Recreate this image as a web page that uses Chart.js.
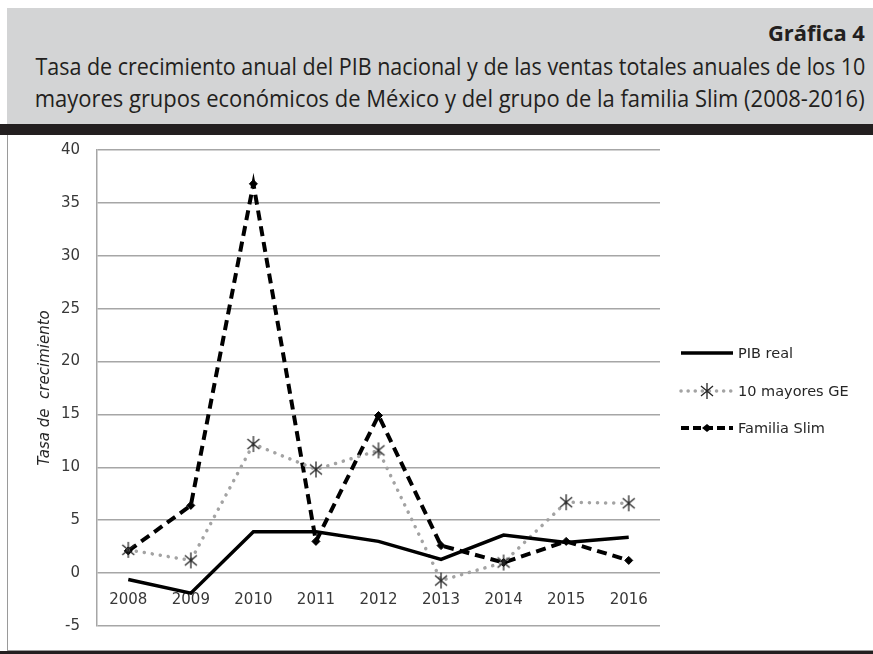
<!DOCTYPE html>
<html>
<head>
<meta charset="utf-8">
<script src="https://cdn.jsdelivr.net/npm/chart.js@4.4.1/dist/chart.umd.min.js"></script>
<style>
  html, body { margin: 0; padding: 0; background: #fff; }
  body { width: 873px; height: 654px; position: relative; overflow: hidden; }
  #head { position: absolute; left: 7px; top: 8px; width: 866px; height: 116px; background: #d3d4d5; color: #231f20; }
  .ln { position: absolute; right: 8px; white-space: nowrap; font-family: "Open Sans", sans-serif; transform-origin: right center; line-height: 1.2; }
  #num { top: 13px; font-weight: bold; font-size: 21px; }
  #t1 { top: 45px; font-size: 23px; }
  #t2 { top: 77px; font-size: 23px; }
  #bar { position: absolute; left: 0; top: 124px; width: 873px; height: 11px; background: #231f20; }
  #box { position: absolute; left: 7px; top: 135px; width: 866px; height: 516px; border-left: 1px solid #9a9a9a; border-bottom: 1px solid #9a9a9a; box-sizing: border-box; }
  #foot { position: absolute; left: 0; top: 651px; width: 873px; height: 3px; background: #231f20; }
  /* the x axis sits at y=0, Chart.js reserves half its height above and below the plot */
  #wrap { position: absolute; left: 0; top: -11px; width: 865px; height: 528px; }
</style>
</head>
<body>
<div id="head">
  <div class="ln" id="num">Gráfica 4</div>
  <div class="ln" id="t1">Tasa de crecimiento anual del PIB nacional y de las ventas totales anuales de los 10</div>
  <div class="ln" id="t2">mayores grupos económicos de México y del grupo de la familia Slim (2008-2016)</div>
</div>
<div id="bar"></div>
<div id="box"><div id="wrap"><canvas id="chart"></canvas></div></div>
<div id="foot"></div>
<script>
// fit the condensed title lines to the printed width
[["num", 97], ["t1", 830], ["t2", 830]].forEach(([id, w]) => {
  let el = document.getElementById(id);
  el.style.transform = "scaleX(" + (w / el.getBoundingClientRect().width) + ")";
});

const years = ["2008", "2009", "2010", "2011", "2012", "2013", "2014", "2015", "2016"];
const pibReal = [-0.6, -1.9, 3.9, 3.9, 3.0, 1.3, 3.6, 2.9, 3.4];
const mayoresGE = [2.2, 1.2, 12.2, 9.8, 11.6, -0.7, 1.0, 6.7, 6.6];
const familiaSlim = [2.1, 6.4, 36.8, 3.0, 14.9, 2.6, 1.0, 3.0, 1.2];
const yTicks = { min: -5, max: 40, step: 5 };

// asterisk marker: an X with a vertical stroke
function starMarker() {
  let c = document.createElement("canvas");
  c.width = 16;
  c.height = 18;
  let g = c.getContext("2d");
  g.strokeStyle = "#262626";
  g.lineWidth = 1.3;
  g.beginPath();
  g.moveTo(2, 4); g.lineTo(14, 14);
  g.moveTo(14, 4); g.lineTo(2, 14);
  g.moveTo(8, 1); g.lineTo(8, 17);
  g.stroke();
  return c;
}
const star = starMarker();

// legend on the right: line sample with the marker in its middle
const sideLegend = {
  id: "sideLegend",
  afterDraw(chart) {
    const ctx = chart.ctx;
    const x0 = 673, len = 52, rows = [229, 267, 304];
    chart.data.datasets.forEach((ds, i) => {
      const y = rows[i];
      ctx.save();
      ctx.strokeStyle = ds.borderColor;
      ctx.lineWidth = ds.borderWidth;
      ctx.lineCap = ds.borderCapStyle || "butt";
      ctx.setLineDash(ds.legendDash || []);
      ctx.beginPath();
      ctx.moveTo(x0, y);
      ctx.lineTo(x0 + len, y);
      ctx.stroke();
      ctx.setLineDash([]);
      if (ds.pointStyle === star) {
        ctx.drawImage(star, x0 + len / 2 - 8, y - 9);
      } else if (ds.pointRadius > 0) {
        ctx.fillStyle = ds.pointBackgroundColor;
        ctx.beginPath();
        ctx.moveTo(x0 + len / 2 - 5, y);
        ctx.lineTo(x0 + len / 2, y - 4);
        ctx.lineTo(x0 + len / 2 + 5, y);
        ctx.lineTo(x0 + len / 2, y + 4);
        ctx.closePath();
        ctx.fill();
      }
      ctx.fillStyle = "#262626";
      ctx.font = "14.5px 'DejaVu Sans'";
      ctx.textBaseline = "middle";
      ctx.fillText(ds.label, x0 + len + 5, y + 1);
      ctx.restore();
    });
  },
};

const ctx = document.getElementById("chart").getContext("2d");
const myChart = new Chart(ctx, {
  type: "line",
  data: {
    labels: years,
    datasets: [
      {
        label: "PIB real",
        data: pibReal,
        borderColor: "#000000",
        borderWidth: 3.5,
        pointRadius: 0,
        tension: 0,
      },
      {
        label: "10 mayores GE",
        data: mayoresGE,
        borderColor: "#a3a3a3",
        borderWidth: 3.5,
        borderDash: [0.1, 8],
        legendDash: [0.1, 7],
        borderCapStyle: "round",
        pointStyle: star,
        pointRadius: 8,
        tension: 0,
      },
      {
        label: "Familia Slim",
        data: familiaSlim,
        borderColor: "#000000",
        borderWidth: 4,
        borderDash: [10, 6],
        legendDash: [8, 4],
        pointStyle: "rectRot",
        pointRadius: 4,
        pointBackgroundColor: "#000000",
        pointBorderColor: "#000000",
        pointBorderWidth: 1,
        tension: 0,
      },
    ],
  },
  options: {
    responsive: true,
    maintainAspectRatio: false,
    animation: false,
    layout: { padding: { left: 0, top: 0, right: 213, bottom: 0 } },
    plugins: {
      legend: { display: false },
      tooltip: { enabled: false },
    },
    scales: {
      x: {
        position: { y: 0 },
        offset: true,
        grid: { display: false, drawTicks: false },
        border: { display: false },
        ticks: {
          padding: 18,
          color: "#383838",
          font: { family: "DejaVu Sans", size: 15 },
          maxRotation: 0,
        },
      },
      y: {
        min: yTicks.min,
        max: yTicks.max,
        afterFit(scale) {
          scale.width = 89;
        },
        grid: { color: "#a6a6a6", lineWidth: 1.5, drawTicks: false },
        border: { display: true, color: "#a6a6a6", width: 1.5 },
        ticks: {
          stepSize: yTicks.step,
          padding: 17,
          color: "#383838",
          font: { family: "DejaVu Sans", size: 15 },
        },
        title: {
          display: true,
          text: "Tasa de  crecimiento",
          color: "#262626",
          font: { family: "DejaVu Sans", size: 15, style: "italic" },
          padding: { top: 28, bottom: 0 },
        },
      },
    },
  },
  plugins: [sideLegend],
});
</script>
</body>
</html>
